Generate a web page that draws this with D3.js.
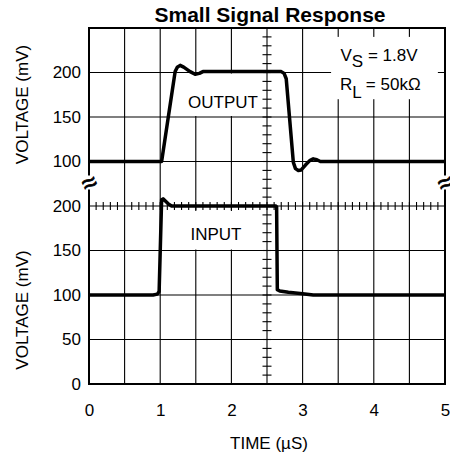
<!DOCTYPE html>
<html>
<head>
<title>Small Signal Response</title>
<style>
body { margin: 0; background: #fff; }
svg { display: block; }
text { font-family: "Liberation Sans", Arial, sans-serif; fill: #000; }
.title { font-weight: bold; font-size: 21px; }
.lbl { font-size: 17px; }
</style>
<script src="https://d3js.org/d3.v7.min.js"></script>
</head>
<body>
<svg id="chart" width="450" height="458"></svg>
<script>

// values
var xTicks = [0, 1, 2, 3, 4, 5];
var upperTicks = [100, 150, 200];
var lowerTicks = [0, 50, 100, 150, 200];

// OUTPUT trace (upper panel, mV)
var outputTime = [0, 1.02, 1.21, 1.24, 1.28, 1.33, 1.42, 1.49, 1.55, 1.6, 2.7, 2.74, 2.77, 2.87, 2.9, 2.94, 2.98, 3.04, 3.1, 3.15, 3.2, 3.25, 5];
var outputMv   = [100, 100, 201, 206, 208, 206, 201, 198, 199, 201, 201, 199, 193, 99, 92, 90, 90.5, 96, 101, 103, 102, 100, 100];

// INPUT trace (lower panel, mV)
var inputTime = [0, 0.9, 0.96, 0.985, 1.02, 1.04, 1.08, 1.12, 1.16, 2.625, 2.635, 2.645, 2.68, 2.8, 3.0, 3.15, 5];
var inputMv   = [100, 100, 101, 104, 207, 208, 205, 202, 200, 200, 199, 106, 104.5, 103, 101.5, 100, 100];

var width = 450, height = 458;
var margin = {top: 28, right: 5, bottom: 74, left: 89};
var rowH = (height - margin.top - margin.bottom) / 8;

var x = d3.scaleLinear().domain([0, 5]).range([margin.left, width - margin.right]);
var yUp = d3.scaleLinear().domain([100, 250]).range([margin.top + 3 * rowH, margin.top]);
var yLo = d3.scaleLinear().domain([0, 200]).range([height - margin.bottom, margin.top + 4 * rowH]);

var svg = d3.select('#chart');

// grid
var grid = svg.append("g").attr("stroke", "#000").attr("stroke-width", 1.1);

grid.selectAll("line.v")
  .data(d3.range(0.5, 5, 0.5))
  .join("line")
  .attr("class", "v")
  .attr("x1", d => x(d)).attr("x2", d => x(d))
  .attr("y1", margin.top).attr("y2", height - margin.bottom);

var hLines = upperTicks.map(d => yUp(d)).concat(lowerTicks.slice(1).map(d => yLo(d)));
grid.selectAll("line.h")
  .data(hLines)
  .join("line")
  .attr("class", "h")
  .attr("x1", margin.left).attr("x2", width - margin.right)
  .attr("y1", d => d).attr("y2", d => d);

// minor ticks on the centre lines
var vMinor = d3.range(100, 251, 10).map(d => yUp(d))
  .concat([90, 80, 70, 60].map(d => yUp(d)))
  .concat(d3.range(0, 201, 10).map(d => yLo(d)));
grid.selectAll("line.mv")
  .data(vMinor)
  .join("line")
  .attr("x1", x(2.5) - 4.5).attr("x2", x(2.5) + 4.5)
  .attr("y1", d => d).attr("y2", d => d);

grid.selectAll("line.mh")
  .data(d3.range(0, 50).map(i => i / 10))
  .join("line")
  .attr("x1", d => x(d)).attr("x2", d => x(d))
  .attr("y1", yLo(200) - 4).attr("y2", yLo(200) + 4);

// white patches behind the labels
svg.append("rect").attr("fill", "#fff")
  .attr("x", x(1.35)).attr("width", x(2.38) - x(1.35))
  .attr("y", yUp(200) + 1).attr("height", yUp(150) - yUp(200) - 2);
svg.append("rect").attr("fill", "#fff")
  .attr("x", x(1.35)).attr("width", x(2.38) - x(1.35))
  .attr("y", yLo(200) + 5).attr("height", yLo(150) - yLo(200) - 6);
svg.append("rect").attr("fill", "#fff")
  .attr("x", x(3.4)).attr("width", x(4.9) - x(3.4))
  .attr("y", yUp(240)).attr("height", yUp(170) - yUp(240));

// frame
svg.append("rect")
  .attr("x", margin.left).attr("y", margin.top)
  .attr("width", width - margin.left - margin.right)
  .attr("height", height - margin.top - margin.bottom)
  .attr("fill", "none").attr("stroke", "#000").attr("stroke-width", 2);

// break marks on the frame
[margin.left, width - margin.right].forEach(function(bx) {
  svg.append("rect").attr("fill", "#fff")
    .attr("x", bx - 3).attr("y", yUp(100) + 14).attr("width", 6).attr("height", 14);
  svg.append("text")
    .attr("transform", "translate(" + bx + "," + (yUp(100) + 21) + ") rotate(-25)")
    .attr("text-anchor", "middle").attr("dy", "0.35em")
    .style("font-size", "26px")
    .attr("stroke", "#000").attr("stroke-width", 0.8)
    .text("\u2248");
});

// traces
var outLine = d3.line().x(d => x(d[0])).y(d => yUp(d[1]));
var inLine = d3.line().x(d => x(d[0])).y(d => yLo(d[1]));

svg.append("path")
  .datum(d3.zip(outputTime, outputMv))
  .attr("fill", "none").attr("stroke", "#000").attr("stroke-width", 3.5)
  .attr("stroke-linejoin", "round")
  .attr("d", outLine);

svg.append("path")
  .datum(d3.zip(inputTime, inputMv))
  .attr("fill", "none").attr("stroke", "#000").attr("stroke-width", 3.5)
  .attr("stroke-linejoin", "round")
  .attr("d", inLine);

// axes (labels only)
var xAxis = svg.append("g")
  .attr("transform", `translate(0,${height - margin.bottom})`)
  .call(d3.axisBottom(x).tickValues(xTicks).tickFormat(d3.format("d")).tickSize(0).tickPadding(20));
var yAxisUp = svg.append("g")
  .attr("transform", `translate(${margin.left},0)`)
  .call(d3.axisLeft(yUp).tickValues(upperTicks).tickSize(0).tickPadding(8));
var yAxisLo = svg.append("g")
  .attr("transform", `translate(${margin.left},0)`)
  .call(d3.axisLeft(yLo).tickValues(lowerTicks).tickSize(0).tickPadding(8));

[xAxis, yAxisUp, yAxisLo].forEach(function(g) {
  g.select(".domain").remove();
  g.attr("font-family", null).attr("font-size", null);
  g.selectAll("text").attr("class", "lbl");
});

// titles
svg.append("text").attr("class", "title")
  .attr("x", 270).attr("y", 22).attr("text-anchor", "middle")
  .text("Small Signal Response");

svg.append("text").attr("class", "lbl")
  .attr("x", 269).attr("y", 449).attr("text-anchor", "middle")
  .text("TIME (\u00b5S)");

svg.append("text").attr("class", "lbl")
  .attr("transform", "translate(28,104.5) rotate(-90)").attr("text-anchor", "middle")
  .text("VOLTAGE (mV)");
svg.append("text").attr("class", "lbl")
  .attr("transform", "translate(28,310) rotate(-90)").attr("text-anchor", "middle")
  .text("VOLTAGE (mV)");

svg.append("text").attr("class", "lbl")
  .attr("x", 223).attr("y", 108).attr("text-anchor", "middle")
  .text("OUTPUT");
svg.append("text").attr("class", "lbl")
  .attr("x", 216).attr("y", 240).attr("text-anchor", "middle")
  .text("INPUT");

var vs = svg.append("text").attr("class", "lbl").attr("x", 340.5).attr("y", 61);
vs.append("tspan").text("V");
vs.append("tspan").attr("dy", 6).text("S");
vs.append("tspan").attr("dy", -6).text(" = 1.8V");

var rl = svg.append("text").attr("class", "lbl").attr("x", 340).attr("y", 90);
rl.append("tspan").text("R");
rl.append("tspan").attr("dy", 8).text("L");
rl.append("tspan").attr("dy", -8).text(" = 50k\u03a9");

</script>
</body>
</html>
